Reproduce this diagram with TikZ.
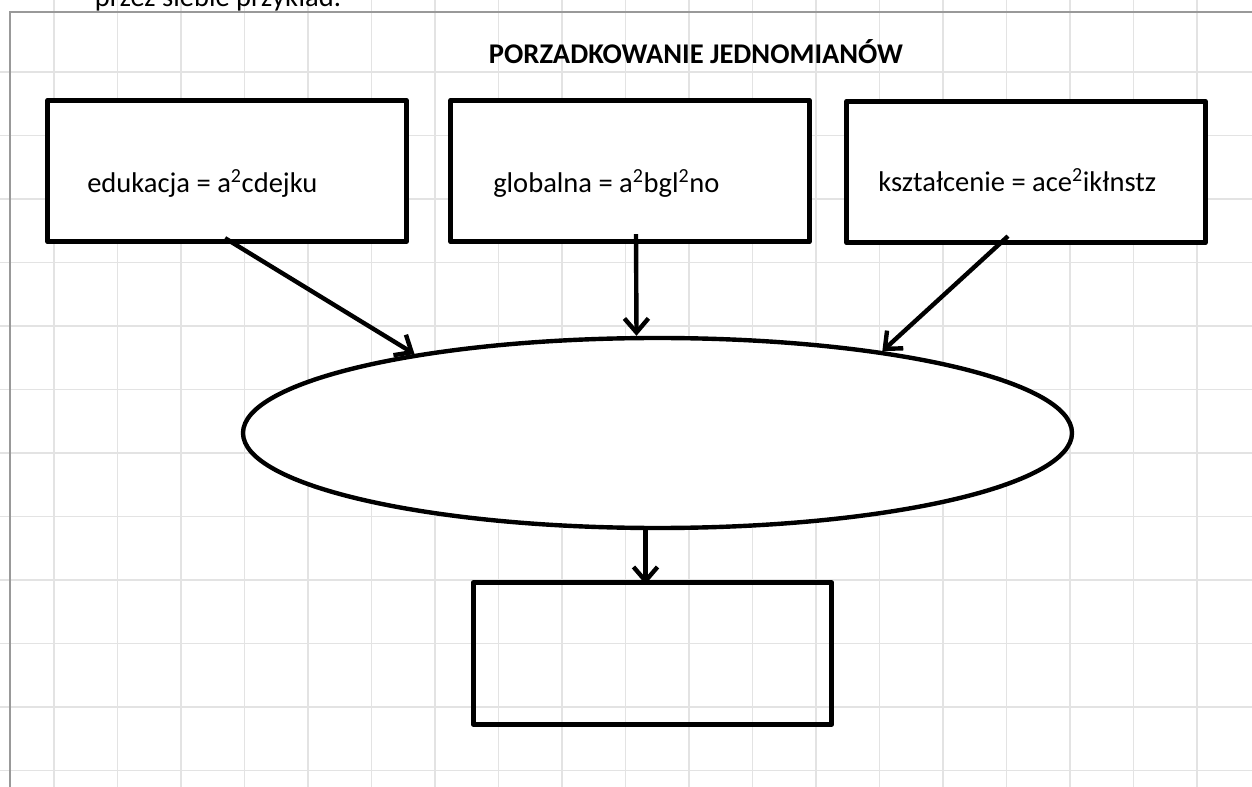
\documentclass[tikz,border=0pt]{standalone}
\usepackage{fontspec}
\setmainfont{Carlito}
\usepackage{tikz}
\usetikzlibrary{calc,shapes.geometric,arrows.meta}

\begin{document}
\begin{tikzpicture}[x=0.75pt,y=-0.75pt]
        \tikzstyle{every node}=[inner sep=0pt,font=\fontsize{21.4}{26}\selectfont]
        \tikzstyle{box}=[draw,rectangle,line width=3.75pt,line join=round,minimum width=269pt,minimum height=106pt]
        \tikzstyle{txt}=[anchor=base west]
        \tikzstyle{arr}=[line width=3.3pt,-{Straight Barb[length=10.5pt,width=18pt]}]
        \tikzstyle{gridline}=[line width=1.1pt,black!11]
        \useasboundingbox (0,0) rectangle (1252,787);
        \clip (0,0) rectangle (1252,787);

        \foreach \i in {0,...,18}
                \draw[gridline] (54+63.5*\i,0) -- (54+63.5*\i,787);
        \foreach \i in {0,...,11}
                \draw[gridline] (0,72+63.5*\i) -- (1252,72+63.5*\i);
        \draw[black!40,line width=1.5pt] (10,787) -- (10,12) -- (1252,12);

        \node[anchor=base] (0) at (218,7) {przez siebie przykład.};
        \node[anchor=base] (1) at (696,64) {\bfseries PORZADKOWANIE JEDNOMIANÓW};

        \node[box,fill=white] (21) at (227,171) {};
        \node[box,fill=white] (22) at (630,171) {};
        \node[box,fill=white] (23) at (1026,172) {};
        \node[txt] (21t) at (87,193) {edukacja = a\textsuperscript{2}cdejku};
        \node[txt] (22t) at (493,193) {globalna = a\textsuperscript{2}bgl\textsuperscript{2}no};
        \node[txt] (23t) at (878,192) {kształcenie = ace\textsuperscript{2}ikłnstz};

        \node[draw,ellipse,line width=3.3pt,fill=white,minimum width=621.75pt,minimum height=142.5pt] (30) at (657.5,433) {};
        \node[box] (31) at (652.5,653.5) {};

        \draw[arr] ($(21.south)+(-2,-6)$) to (30.162);
        \draw[arr] ($(22.south)+(6,-10)$) to ($(30.north)+(-21,0)$);
        \draw[arr] ($(23.south)+(-18,-9)$) to (30.20);
        \draw[arr] ($(30.south)+(-12,0)$) to ($(31.north)+(-7,4)$);
\end{tikzpicture}
\end{document}
